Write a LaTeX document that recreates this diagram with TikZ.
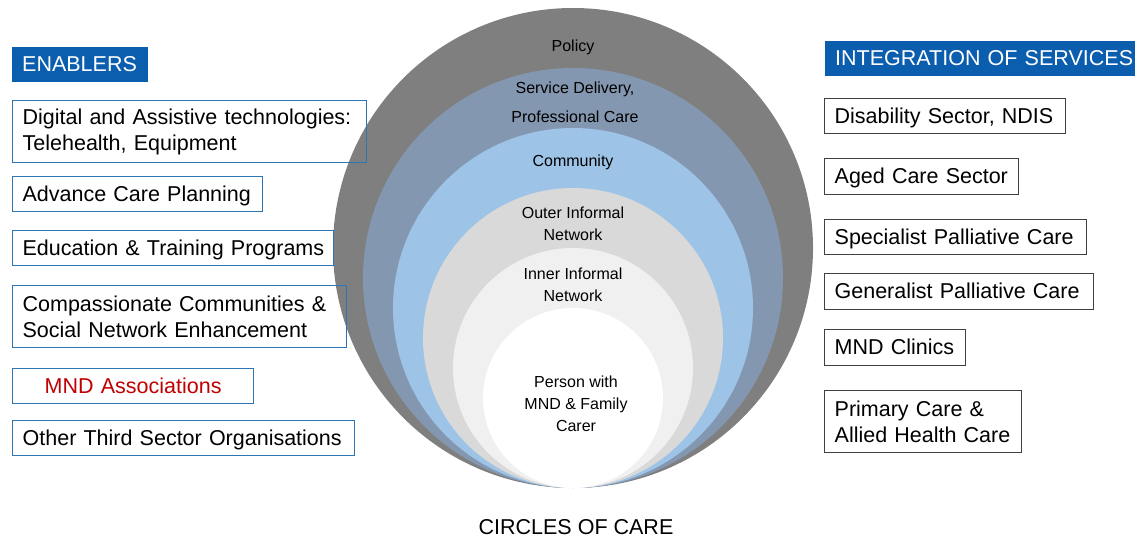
\documentclass[tikz,border=0pt]{standalone}
\usepackage{fontspec}
\setmainfont{Liberation Sans}
\definecolor{hdrblue}{HTML}{0B5DAE}
\definecolor{boxblue}{HTML}{2E75B6}
\definecolor{boxgray}{HTML}{404040}
\definecolor{cPolicy}{HTML}{7F7F7F}
\definecolor{cService}{HTML}{8497B0}
\definecolor{cCommunity}{HTML}{9DC3E6}
\definecolor{cOuter}{HTML}{D9D9D9}
\definecolor{cInner}{HTML}{F0F0F0}
\definecolor{mndred}{HTML}{C00000}
\tikzset{
  big/.style={font=\fontsize{21.5}{26}\selectfont},
  small/.style={font=\fontsize{16}{22}\selectfont, align=center, text=black},
  lbox/.style={big, draw=boxblue, line width=1.3pt, anchor=north west, inner xsep=10pt, inner ysep=0pt, align=left},
  rbox/.style={big, draw=boxgray, line width=1.3pt, anchor=north west, inner xsep=10pt, inner ysep=0pt, align=left},
  hdr/.style={big, fill=hdrblue, text=white, anchor=north west, inner xsep=10pt, inner ysep=0pt, align=left},
  oneline/.style={text height=18.5pt, text depth=4pt},
}
\begin{document}
\begin{tikzpicture}[x=1pt,y=-1pt]
\useasboundingbox (0,0) rectangle (1135,540);
% circles of care
\fill[cPolicy] (573,248) circle (240);
\fill[cService] (573,278) circle (210);
\fill[cCommunity] (573,308) circle (180);
\fill[cOuter] (573,338) circle (150);
\fill[cInner] (573,368) circle (120);
\fill[white] (573,398) circle (90);
\node[small] (policy) at (573,47) {Policy};
\node[small, font=\fontsize{16}{29}\selectfont] (service) at (575,102) {Service Delivery,\\Professional Care};
\node[small] (community) at (573,162) {Community};
\node[small] (outer) at (573,224) {Outer Informal\\Network};
\node[small] (inner) at (573,285) {Inner Informal\\Network};
\node[small] (person) at (576,404) {Person with\\MND \& Family\\Carer};
\node[big] (title) at (576,527) {CIRCLES OF CARE};
% enablers
\node[hdr, oneline, minimum height=35pt, text width=116pt] (enablers) at (12,47) {ENABLERS};
\node[lbox, minimum height=62pt, text width=334pt] (digital) at (12,100) {Digital and Assistive technologies:\\Telehealth, Equipment};
\node[lbox, oneline, minimum height=35pt, text width=230pt] (advance) at (12,176) {Advance Care Planning};
\node[lbox, oneline, minimum height=35pt, text width=301pt] (education) at (12,230) {\mbox{Education \& Training Programs}};
\node[lbox, minimum height=62pt, text width=314pt] (compassion) at (12,285) {Compassionate Communities \&\\Social Network Enhancement};
\node[lbox, oneline, minimum height=35pt, text width=221pt, align=center, text=mndred] (mndassoc) at (12,368) {MND Associations};
\node[lbox, oneline, minimum height=35pt, text width=322pt] (other) at (12,420) {Other Third Sector Organisations};
% integration of services
\node[hdr, oneline, minimum height=35pt, text width=300pt] (integration) at (825,41) {INTEGRATION OF SERVICES};
\node[rbox, oneline, minimum height=35pt, text width=221pt] (disability) at (824,98) {Disability Sector, NDIS};
\node[rbox, oneline, minimum height=36pt, text width=174pt] (aged) at (824,158) {Aged Care Sector};
\node[rbox, oneline, minimum height=35pt, text width=242pt] (specialist) at (824,219) {Specialist Palliative Care};
\node[rbox, oneline, minimum height=36pt, text width=249pt] (generalist) at (824,273) {Generalist Palliative Care};
\node[rbox, oneline, minimum height=36pt, text width=121pt] (clinics) at (824,329) {MND Clinics};
\node[rbox, minimum height=62pt, text width=177pt] (primary) at (824,390) {Primary Care \&\\Allied Health Care};
\end{tikzpicture}
\end{document}
